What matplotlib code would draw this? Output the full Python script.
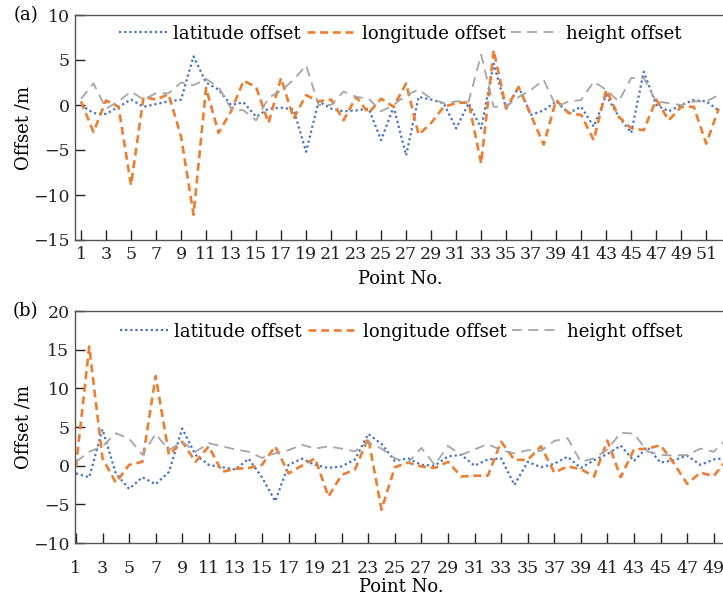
import numpy as np
import matplotlib
matplotlib.use('Agg')
import matplotlib.pyplot as plt

plt.rcParams['font.family'] = ['DejaVu Serif']
plt.rcParams['axes.unicode_minus'] = True

# Panel (a): 52 points
lat_a = [0.0, -0.9, -1.0, -0.2, 0.6, -0.2, 0.1, 0.4, 0.6, 5.4,
         2.5, 1.7, 0.0, 0.3, -1.3, -0.4, -0.3, -0.5, -5.2, 0.4,
         -0.4, -0.7, -0.6, -0.4, -3.9, -0.2, -5.6, 0.9, 0.6, 0.2,
         -2.6, 0.2, -2.6, 4.6, -0.4, 2.0, -1.1, -0.6, 0.4, -0.9,
         -0.2, -2.4, 1.1, -1.3, -3.1, 3.7, 0.0, -0.7, 0.0, 0.55,
         0.4, -0.6]
lon_a = [0.4, -3.0, 0.5, -0.2, -8.9, 0.9, 0.6, 1.2, -3.5, -12.2,
         1.9, -3.1, -0.7, 2.7, 2.0, -2.0, 3.0, -1.5, 1.1, 0.4,
         0.6, -1.7, 0.9, -0.9, 0.7, -0.2, 2.4, -3.3, -2.0, -0.2,
         0.2, 0.3, -6.5, 6.1, -0.4, 2.0, -1.2, -4.4, 0.55, -0.9,
         -1.1, -3.9, 1.7, -1.3, -2.6, -2.8, 0.6, -1.7, -0.2, -0.2,
         -4.3, -0.4]
hgt_a = [0.7, 2.4, -0.4, 0.4, 1.5, 0.6, 1.3, 1.3, 2.5, 2.2,
         2.9, 2.0, -0.4, -0.6, -1.7, 0.8, 1.6, 2.8, 4.4, 0.0,
         0.0, 1.5, 0.9, 0.7, -0.7, 0.0, 1.1, 1.7, 0.7, 0.2,
         0.4, 0.4, 5.6, -0.2, -0.2, 0.9, 1.7, 2.8, -0.2, 0.4,
         0.55, 2.6, 1.7, 0.4, 3.0, 3.0, 0.4, 0.2, 0.0, 0.4,
         0.4, 1.1]

# Panel (b): 50 points
lat_b = [-1.0, -1.5, 4.7, -1.0, -3.0, -1.5, -2.4, -0.8, 4.8, 1.4,
         0.1, -0.2, -0.5, 0.9, -1.5, -4.6, 0.1, 0.9, 0.1, -0.3,
         -0.1, 0.8, 4.1, 2.8, 0.6, 0.95, 0.1, 0.0, 1.2, 1.4,
         0.0, 0.8, 0.95, -2.5, 0.5, -0.2, 0.25, 1.15, -0.3, 0.7,
         1.5, 2.6, 0.6, 2.4, 0.4, 0.7, 1.3, 0.1, 0.8, 1.0]
lon_b = [-0.2, 15.4, 0.95, -2.2, 0.1, 0.5, 11.6, 1.4, 3.1, 0.5,
         2.5, -0.8, -0.4, -0.3, 0.1, 2.5, -1.0, 0.0, 0.95, -4.0,
         -1.2, -0.5, 3.6, -5.7, -0.2, 0.4, -0.1, -0.3, 0.5, -1.4,
         -1.3, -1.3, 3.1, 0.75, 0.75, 2.5, -0.9, -0.1, -0.45, -1.4,
         3.25, -1.5, 2.1, 2.2, 2.65, 0.3, -2.35, -0.9, -1.35, 0.8]
hgt_b = [0.5, 1.8, 2.5, 4.2, 3.5, 1.4, 4.1, 2.0, 3.1, 1.8,
         2.9, 2.5, 2.1, 1.8, 1.0, 1.6, 2.0, 2.7, 2.2, 2.5,
         2.2, 1.85, 3.0, 2.2, 0.95, 0.4, 2.3, 0.1, 2.55, 1.4,
         2.1, 2.8, 2.0, 1.6, 2.0, 1.9, 3.2, 3.55, 0.5, 0.95,
         2.1, 4.25, 4.15, 1.85, 1.4, 1.3, 1.4, 2.2, 1.8, 3.5]

labels = ['latitude offset', 'longitude offset', 'height offset']
c_lat, c_lon, c_hgt = '#4472C4', '#ED7D31', '#A5A5A5'

W, H = 723, 601
fig = plt.figure(figsize=(W / 100, H / 100), dpi=100)

def px_axes(left, right, top, bottom):
    return fig.add_axes([left / W, 1 - bottom / H, (right - left) / W, (bottom - top) / H])

def draw(ax, lat, lon, hgt, ylim, yticks, xlim, tag, xpad, xlabelpad, legy):
    x = np.arange(1, len(lat) + 1)
    ax.plot(x, lat, color=c_lat, linestyle=(0, (1, 1.3)), linewidth=1.6, label=labels[0])
    ax.plot(x, lon, color=c_lon, linestyle=(0, (3, 1.8)), linewidth=1.9, label=labels[1])
    ax.plot(x, hgt, color=c_hgt, linestyle=(0, (5.5, 3.5)), linewidth=1.3, label=labels[2])
    ax.set_xlim(*xlim)
    ax.set_ylim(*ylim)
    ax.set_yticks(yticks)
    ax.set_xticks(x[::2])
    ax.tick_params(direction='in', length=7, width=1, labelsize=12.5, colors='#222222')
    ax.tick_params(axis='x', pad=xpad)
    ax.tick_params(axis='y', pad=4)
    for side in ['left', 'bottom', 'top']:
        ax.spines[side].set_color('#555555')
        ax.spines[side].set_linewidth(1.0)
    ax.spines['right'].set_visible(False)
    ax.set_xlabel('Point No.', fontsize=13, labelpad=xlabelpad)
    ax.set_ylabel('Offset /m', fontsize=13, labelpad=0)
    ax.legend(loc='upper center', ncol=3, frameon=False, fontsize=13,
              handlelength=2.7, handletextpad=0.33, columnspacing=0.33,
              bbox_to_anchor=(0.5, legy))
    ax.text(-0.095, 1.0, tag, transform=ax.transAxes, fontsize=13, va='center', ha='left')

ax1 = px_axes(75, 725, 15, 240)
draw(ax1, lat_a, lon_a, hgt_a, (-15, 10), [-15, -10, -5, 0, 5, 10], (0.52, 52.5), '(a)',
     xpad=4, xlabelpad=5.5, legy=1.03)

ax2 = px_axes(75, 727, 311, 543)
draw(ax2, lat_b, lon_b, hgt_b, (-10, 20), [-10, -5, 0, 5, 10, 15, 20], (0.93, 50), '(b)',
     xpad=12, xlabelpad=1, legy=1.02)

fig.savefig('out.png', dpi=100)
